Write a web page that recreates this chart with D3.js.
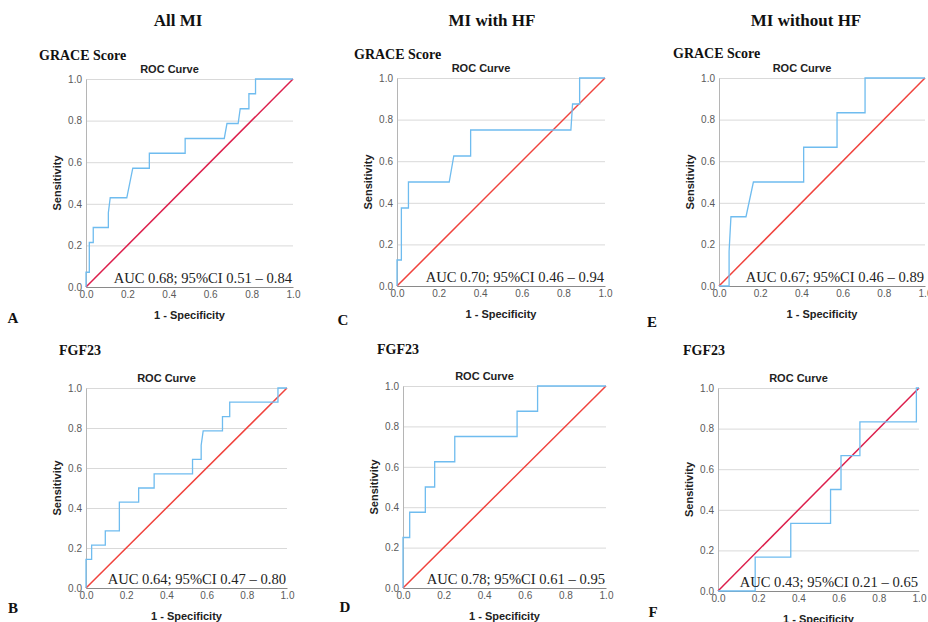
<!DOCTYPE html>
<html>
<head>
<meta charset="utf-8">
<script src="https://d3js.org/d3.v7.min.js"></script>
<style>
  body { margin: 0; background: #fff; }
</style>
</head>
<body>
<div id="chart"></div>
<script>
  // column headings and row markers
  const columnTitles = ["All MI", "MI with HF", "MI without HF"];
  const markerNames = ["GRACE Score", "FGF23"];
  const panelLetters = ["A", "C", "E", "B", "D", "F"];
  const aucLabels = [
    "AUC 0.68; 95%CI 0.51 \u2013 0.84",
    "AUC 0.70; 95%CI 0.46 \u2013 0.94",
    "AUC 0.67; 95%CI 0.46 \u2013 0.89",
    "AUC 0.64; 95%CI 0.47 \u2013 0.80",
    "AUC 0.78; 95%CI 0.61 \u2013 0.95",
    "AUC 0.43; 95%CI 0.21 \u2013 0.65"
  ];
  const tickValues = [0, 0.2, 0.4, 0.6, 0.8, 1.0];

  // ROC curves, [1 - specificity, sensitivity]
  const rocA = [[0,0],[0,0.071],[0.016,0.071],[0.016,0.214],[0.035,0.214],[0.035,0.286],[0.108,0.286],[0.108,0.357],[0.117,0.429],[0.197,0.429],[0.226,0.571],[0.306,0.571],[0.306,0.643],[0.479,0.643],[0.479,0.714],[0.668,0.714],[0.681,0.786],[0.735,0.786],[0.745,0.857],[0.787,0.857],[0.787,0.929],[0.819,0.929],[0.819,1],[1,1]];
  const rocC = [[0,0],[0,0.125],[0.021,0.125],[0.021,0.375],[0.055,0.375],[0.055,0.5],[0.251,0.5],[0.273,0.625],[0.354,0.625],[0.354,0.75],[0.836,0.75],[0.844,0.875],[0.878,0.875],[0.878,1],[1,1]];
  const rocE = [[0,0],[0.049,0],[0.049,0.167],[0.058,0.333],[0.131,0.333],[0.167,0.5],[0.411,0.5],[0.411,0.667],[0.573,0.667],[0.573,0.833],[0.709,0.833],[0.709,1],[1,1]];
  const rocB = [[0,0],[0,0.143],[0.028,0.143],[0.028,0.214],[0.096,0.214],[0.096,0.286],[0.166,0.286],[0.166,0.429],[0.262,0.429],[0.262,0.5],[0.339,0.5],[0.339,0.571],[0.53,0.571],[0.53,0.643],[0.573,0.643],[0.573,0.714],[0.583,0.786],[0.679,0.786],[0.679,0.857],[0.715,0.857],[0.715,0.929],[0.955,0.929],[0.955,1],[1,1]];
  const rocD = [[0,0],[0,0.25],[0.033,0.25],[0.033,0.375],[0.11,0.375],[0.11,0.5],[0.156,0.5],[0.156,0.625],[0.255,0.625],[0.255,0.75],[0.562,0.75],[0.562,0.875],[0.663,0.875],[0.663,1],[1,1]];
  const rocF = [[0,0],[0.185,0],[0.185,0.167],[0.362,0.167],[0.362,0.333],[0.56,0.333],[0.56,0.5],[0.612,0.5],[0.612,0.667],[0.706,0.667],[0.706,0.833],[0.987,0.833],[0.987,1],[1,1]];
  const rocCurves = [rocA, rocC, rocE, rocB, rocD, rocF];

  const width = 928, height = 622;
  const serif = "'Liberation Serif', 'DejaVu Serif', serif";
  const sans = "'Liberation Sans', Arial, sans-serif";

  const svg = d3.select("#chart").append("svg")
    .attr("width", width)
    .attr("height", height);

  // plot frames: left, right, top, bottom (pixels)
  const frames = [
    [86, 293, 79, 287],
    [397, 605, 78, 286],
    [719, 925, 78, 286],
    [86, 287, 388, 588],
    [403, 606, 386, 588],
    [718, 919, 388, 591]
  ];
  // marker heading (left, y), panel letter (x, y)
  const headPos = [[39, 55], [354, 54], [673, 53], [59, 350], [377, 349], [683, 350]];
  const letterPos = [[13, 318], [343, 320], [652, 322], [13, 608], [345, 607], [653, 612]];
  const diagColors = ["#dc1f4c", "#f0433d", "#f0433d", "#f0433d", "#f0433d", "#dc1f4c"];

  // column titles
  const colX = [178, 492, 806];
  svg.selectAll(".coltitle")
    .data(columnTitles)
    .enter().append("text")
      .attr("x", (d, i) => colX[i])
      .attr("y", 20)
      .attr("dy", "0.35em")
      .attr("text-anchor", "middle")
      .style("font-family", serif)
      .style("font-weight", "bold")
      .style("font-size", "17px")
      .style("fill", "#111")
      .text(d => d);

  rocCurves.forEach(function(roc, i) {
    const [l, r, t, b] = frames[i];
    const x = d3.scaleLinear().domain([0, 1]).range([l, r]);
    const y = d3.scaleLinear().domain([0, 1]).range([b, t]);
    const g = svg.append("g");

    // marker heading and letter
    g.append("text")
      .attr("x", headPos[i][0]).attr("y", headPos[i][1])
      .attr("dy", "0.35em")
      .style("font-family", serif).style("font-weight", "bold")
      .style("font-size", "14px").style("fill", "#111")
      .text(markerNames[i < 3 ? 0 : 1]);
    g.append("text")
      .attr("x", letterPos[i][0]).attr("y", letterPos[i][1])
      .attr("dy", "0.35em")
      .attr("text-anchor", "middle")
      .style("font-family", serif).style("font-weight", "bold")
      .style("font-size", "15px").style("fill", "#111")
      .text(panelLetters[i]);

    // gridlines
    g.append("g")
      .attr("transform", `translate(${l},0)`)
      .call(d3.axisLeft(y).tickValues(tickValues.slice(1)).tickSize(-(r - l)).tickFormat(""))
      .call(s => s.select(".domain").remove())
      .call(s => s.selectAll("line").attr("stroke", "#d9d9d9"));

    // y axis
    g.append("g")
      .attr("transform", `translate(${l},0)`)
      .call(d3.axisLeft(y).tickValues(tickValues).tickSize(0).tickPadding(4).tickFormat(d3.format(".1f")))
      .call(s => s.select(".domain").attr("stroke", "#b5b5b5"))
      .call(s => s.selectAll("text").style("font-family", sans).style("font-size", "10px").style("fill", "#5a5a5a"));

    // x axis
    g.append("g")
      .attr("transform", `translate(0,${b})`)
      .call(d3.axisBottom(x).tickValues(tickValues).tickSize(0).tickPadding(4).tickFormat(d3.format(".1f")))
      .call(s => s.select(".domain").attr("stroke", "#8a8a8a"))
      .call(s => s.selectAll("text").style("font-family", sans).style("font-size", "10px").style("fill", "#5a5a5a"));

    // titles
    g.append("text")
      .attr("x", (l + r) / 2 - 20).attr("y", t - 6)
      .attr("text-anchor", "middle")
      .style("font-family", sans).style("font-weight", "bold")
      .style("font-size", "11px").style("fill", "#222")
      .text("ROC Curve");
    g.append("text")
      .attr("x", (l + r) / 2).attr("y", b + 28)
      .attr("dy", "0.35em")
      .attr("text-anchor", "middle")
      .style("font-family", sans).style("font-weight", "bold")
      .style("font-size", "11px").style("fill", "#222")
      .text("1 - Specificity");
    g.append("text")
      .attr("transform", `translate(${l - 29},${(t + b) / 2}) rotate(-90)`)
      .attr("dy", "0.35em")
      .attr("text-anchor", "middle")
      .style("font-family", sans).style("font-weight", "bold")
      .style("font-size", "11px").style("fill", "#222")
      .text("Sensitivity");

    // reference line
    g.append("line")
      .attr("x1", x(0)).attr("y1", y(0))
      .attr("x2", x(1)).attr("y2", y(1))
      .attr("stroke", diagColors[i])
      .attr("stroke-width", 1.5);

    // ROC curve
    const line = d3.line().x(d => x(d[0])).y(d => y(d[1]));
    g.append("path")
      .datum(roc)
      .attr("d", line)
      .attr("fill", "none")
      .attr("stroke", "#6fbcef")
      .attr("stroke-width", 1.3);

    // AUC annotation
    g.append("text")
      .attr("x", r - 1).attr("y", b - 4)
      .attr("text-anchor", "end")
      .style("font-family", serif)
      .style("font-size", "14.6px").style("fill", "#222")
      .text(aucLabels[i]);
  });
</script>
</body>
</html>
